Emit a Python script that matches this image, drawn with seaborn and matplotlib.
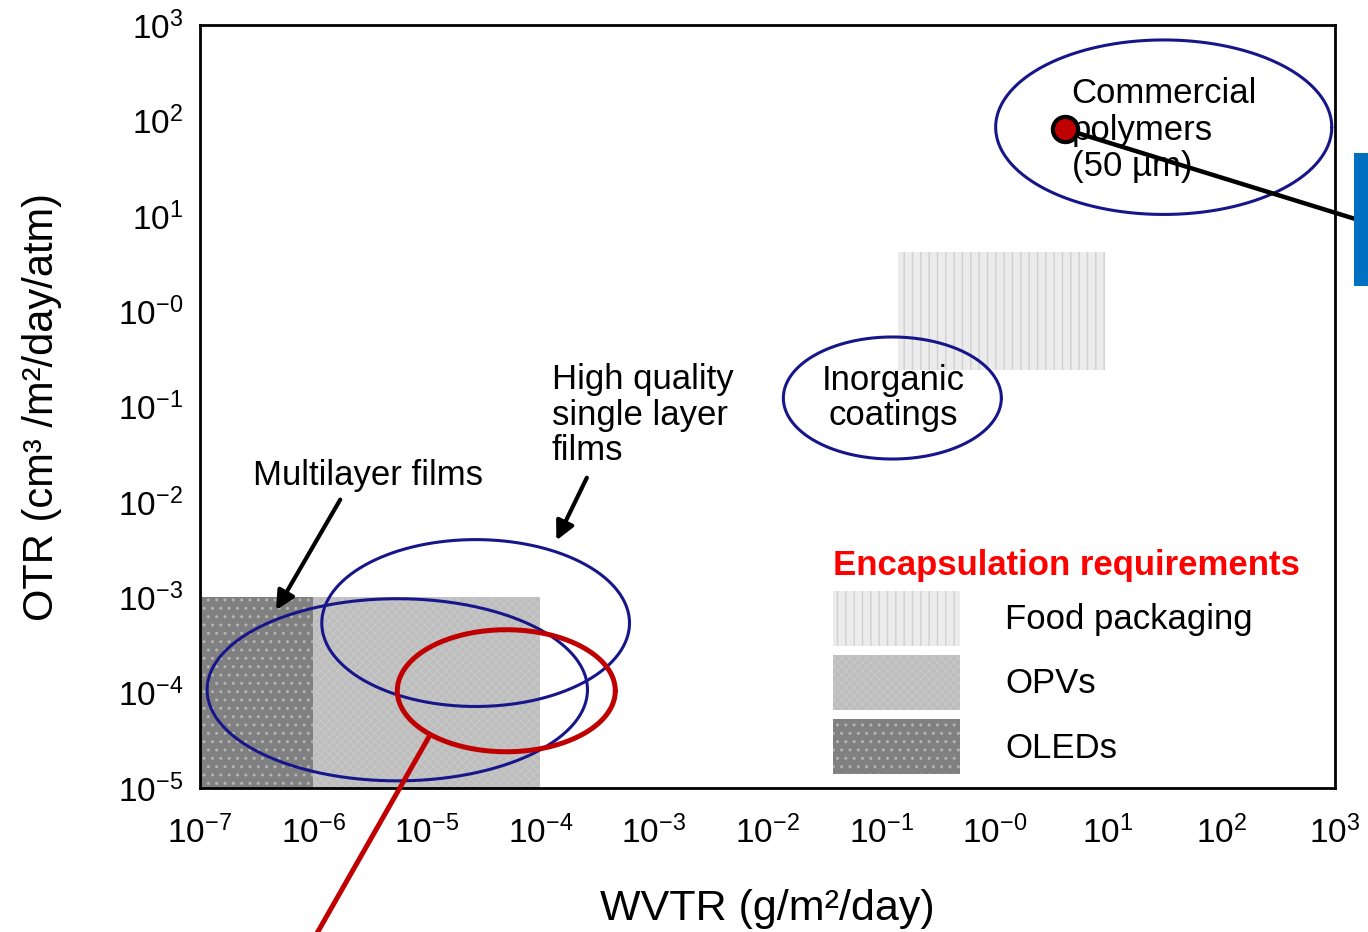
import numpy as np
import matplotlib
matplotlib.use("Agg")
import matplotlib.pyplot as plt
from matplotlib.patches import Rectangle, Patch
import seaborn as sns

# requirement regions (x range, y range) in g/m2/day and cm3/m2/day/atm
req_names = ['Food packaging', 'OPVs', 'OLEDs']
req_x = [(0.14, 9.3), (1e-6, 1e-4), (1e-7, 1e-6)]
req_y = [(0.24, 4.2), (1e-5, 1e-3), (1e-5, 1e-3)]

# material ellipses: centre (log10 x, log10 y), full width / height in decades
ell_names = ['Multilayer films', 'High quality single layer films', 'Inorganic coatings', 'Commercial polymers']
ell_cx = [-5.26, -4.57, -0.90, 1.49]
ell_cy = [-3.97, -3.27, -0.91, 1.93]
ell_w = [3.35, 2.71, 1.92, 2.96]
ell_h = [1.91, 1.75, 1.28, 1.83]

# highlight ellipse (red)
red_cx, red_cy, red_w, red_h = -4.30, -3.98, 1.92, 1.28

# commercial polymer point
pt_x = [4.2]
pt_y = [81]

xticks = [10.0 ** k for k in range(-7, 4)]
yticks = [10.0 ** k for k in range(-5, 4)]

def lab(k):
    return r'$10^{-0}$' if k == 0 else r'$10^{%d}$' % k

sns.set_theme(style="white")
plt.rcParams['font.family'] = ['Liberation Sans', 'DejaVu Sans']
plt.rcParams['mathtext.fontset'] = 'custom'
plt.rcParams['mathtext.rm'] = 'Liberation Sans'
plt.rcParams['mathtext.it'] = 'Liberation Sans:italic'
plt.rcParams['mathtext.bf'] = 'Liberation Sans:bold'
plt.rcParams['hatch.linewidth'] = 1.0
plt.rcParams['text.color'] = 'black'
plt.rcParams['axes.labelcolor'] = 'black'

fig, ax = plt.subplots(figsize=(13.68, 9.32), dpi=100)
fig.subplots_adjust(left=0.146, right=0.976, bottom=0.1545, top=0.973)
ax.set_xscale('log')
ax.set_yscale('log')
ax.set_xlim(1e-7, 1e3)
ax.set_ylim(1e-5, 1e3)

styles = {
    'Food packaging': dict(facecolor='#ececec', edgecolor='#d0d0d0', hatch='||'),
    'OPVs': dict(facecolor='#bdbdbd', edgecolor='#c6c6c6', hatch='xxxx'),
    'OLEDs': dict(facecolor='#808080', edgecolor='#b4b4b4', hatch='..'),
}

for name, (x0, x1), (y0, y1) in zip(req_names, req_x, req_y):
    ax.add_patch(Rectangle((x0, y0), x1 - x0, y1 - y0, linewidth=0, zorder=1, **styles[name]))

t = np.linspace(0, 2 * np.pi, 400)
for cx, cy, w, h in zip(ell_cx, ell_cy, ell_w, ell_h):
    ax.plot(10 ** (cx + w / 2 * np.cos(t)), 10 ** (cy + h / 2 * np.sin(t)),
            color='#16168a', lw=2.2, zorder=3)

ax.plot(10 ** (red_cx + red_w / 2 * np.cos(t)), 10 ** (red_cy + red_h / 2 * np.sin(t)),
        color='#c00000', lw=3.6, zorder=4)
# red pointer leaving the plot
ax.plot([10 ** -4.97, 10 ** -5.98], [10 ** -4.44, 10 ** -6.55], color='#c00000', lw=3.6,
        clip_on=False, zorder=4)

# black pointer from the commercial polymer point to the side box
ax.plot([pt_x[0], 10 ** 3.17], [pt_y[0], 10 ** 0.97], color='black', lw=3.2, clip_on=False, zorder=5)
ax.add_patch(Rectangle((10 ** 3.17, 10 ** 0.264), 10 ** 3.4 - 10 ** 3.17, 10 ** 1.66 - 10 ** 0.264,
                       facecolor='#0070c0', edgecolor='none', clip_on=False, zorder=5))
sns.scatterplot(x=pt_x, y=pt_y, ax=ax, s=330, color='#c00000', edgecolor='black', linewidth=3,
                zorder=6, clip_on=False, legend=False)

fs = 25
ax.text(10 ** -5.52, 10 ** -1.72, 'Multilayer films', fontsize=fs, ha='center', va='center')
ax.annotate('', xy=(10 ** -6.34, 10 ** -3.16), xytext=(10 ** -5.75, 10 ** -1.95),
            arrowprops=dict(arrowstyle='-|>', color='black', lw=3, mutation_scale=28))
ax.text(10 ** -3.90, 10 ** -1.09, 'High quality\nsingle layer\nfilms', fontsize=fs,
        ha='left', va='center', linespacing=1.1)
ax.annotate('', xy=(10 ** -3.87, 10 ** -2.43), xytext=(10 ** -3.58, 10 ** -1.72),
            arrowprops=dict(arrowstyle='-|>', color='black', lw=3, mutation_scale=28))
ax.text(10 ** -0.894, 10 ** -0.91, 'Inorganic\ncoatings', fontsize=fs, ha='center', va='center',
        linespacing=1.05)
ax.text(10 ** 0.68, 10 ** 1.90, 'Commercial\npolymers\n(50 µm)', fontsize=fs, ha='left',
        va='center', linespacing=1.12, zorder=4)

handles = [Patch(linewidth=0, label=n, **styles[n]) for n in req_names]
leg = ax.legend(handles=handles, loc='lower left', bbox_to_anchor=(0.5577, 0.0183),
                frameon=False, fontsize=fs, borderpad=0, borderaxespad=0,
                handlelength=3.66, handleheight=2.05, labelspacing=0.27, handletextpad=1.3,
                title='Encapsulation requirements', alignment='left',
                title_fontproperties={'weight': 'bold', 'size': fs})
leg.get_title().set_color('#ff0000')

ax.set_xticks(xticks)
ax.set_xticklabels([lab(k) for k in range(-7, 4)])
ax.set_yticks(yticks)
ax.set_yticklabels([lab(k) for k in range(-5, 4)])
ax.minorticks_off()
ax.tick_params(axis='x', direction='in', length=8, width=1.6, pad=20, labelsize=24, colors='black')
ax.tick_params(axis='y', direction='in', length=12, width=1.6, pad=12, labelsize=24, colors='black')
ax.tick_params(top=False, right=False)
for s in ax.spines.values():
    s.set_color('black')
    s.set_linewidth(2)

ax.set_xlabel('WVTR (g/m²/day)', fontsize=31, labelpad=28)
ax.set_ylabel('OTR (cm³ /m²/day/atm)', fontsize=30, labelpad=40)

fig.savefig('out.png', dpi=100)
